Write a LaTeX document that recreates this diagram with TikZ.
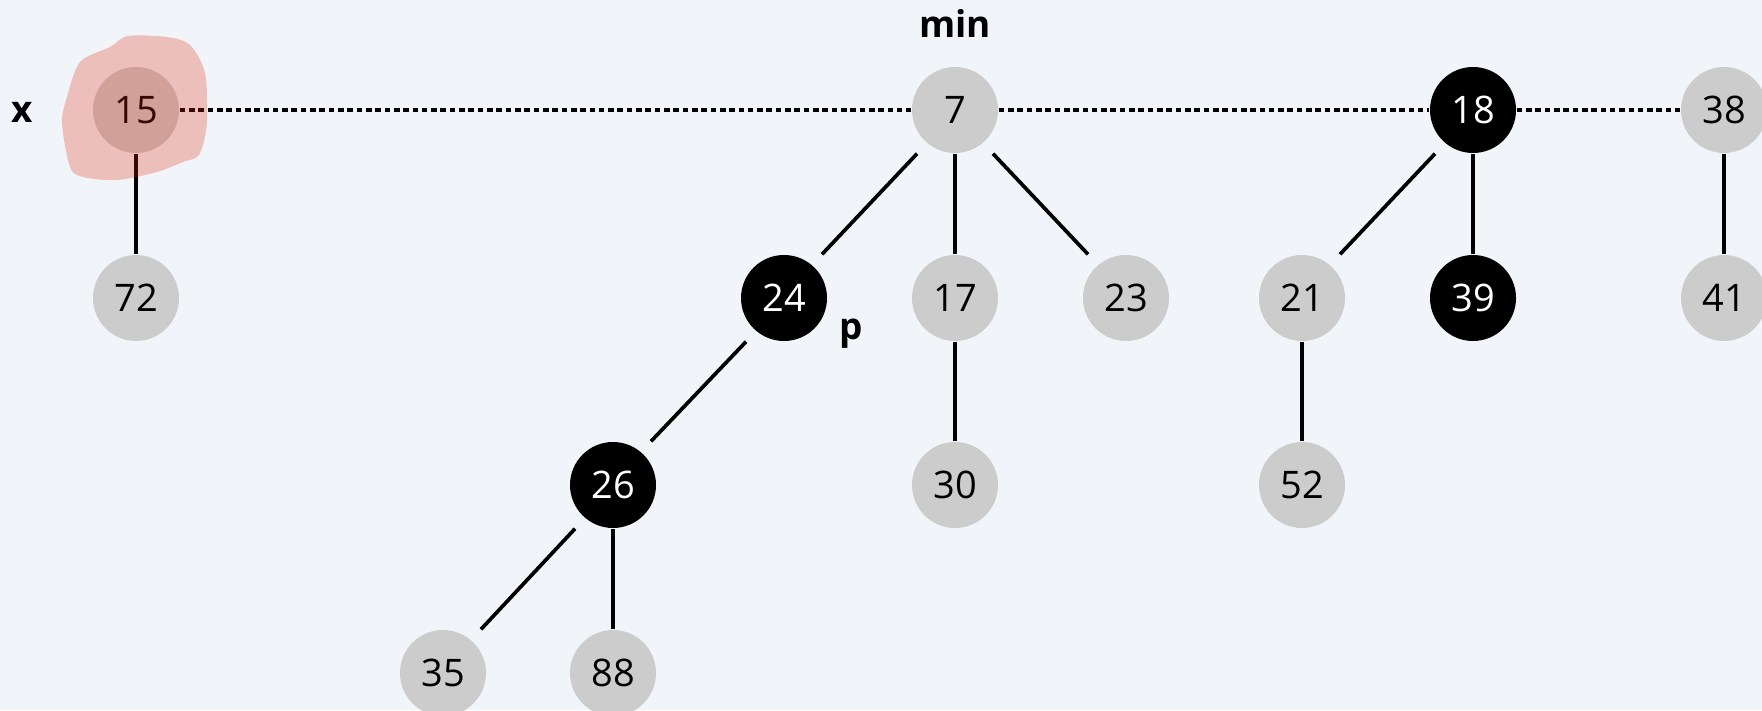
\documentclass[tikz,border=0pt]{standalone}
\usepackage{fontspec}
\setmainfont{Open Sans}
\usetikzlibrary{calc}
\definecolor{bgcol}{RGB}{241,245,249}
\definecolor{nodegray}{RGB}{204,204,204}
\definecolor{markred}{RGB}{224,32,0}
\tikzset{
  key/.style={circle, fill=nodegray, minimum size=0.86cm, inner sep=0pt,
    font=\fontsize{10.8}{13}\selectfont},
  marked/.style={key, fill=black, text=white},
  tag/.style={font=\fontsize{10.5}{13}\selectfont\bfseries},
  link/.style={line width=1.05pt},
  rootlist/.style={line width=0.9pt, dash pattern=on 1.6pt off 1.05pt}
}
\begin{document}
\begin{tikzpicture}
    \fill[bgcol] (0,0) rectangle (17.62,7.10);
    \useasboundingbox (0,0) rectangle (17.62,7.10);
    % roots
    \node[key] (n15) at (1.36,6.00) {15};
    \node[key] (n7) at (9.55,6.00) {7};
    \node[marked] (n18) at (14.73,6.00) {18};
    \node[key] (n38) at (17.24,6.00) {38};
    % children
    \node[key] (n72) at (1.36,4.12) {72};
    \node[marked] (n24) at (7.84,4.12) {24};
    \node[key] (n17) at (9.55,4.12) {17};
    \node[key] (n23) at (11.26,4.12) {23};
    \node[key] (n21) at (13.02,4.12) {21};
    \node[marked] (n39) at (14.73,4.12) {39};
    \node[key] (n41) at (17.24,4.12) {41};
    \node[marked] (n26) at (6.13,2.25) {26};
    \node[key] (n30) at (9.55,2.25) {30};
    \node[key] (n52) at (13.02,2.25) {52};
    \node[key] (n35) at (4.43,0.37) {35};
    \node[key] (n88) at (6.13,0.37) {88};
    % labels
    \node[tag] (lx) at (0.22,5.98) {x};
    \node[tag] (lmin) at (9.55,6.87) {min};
    \node[tag] (lp) at (8.51,3.76) {p};
    % root list
    \draw[rootlist] (n15.east) -- (n7.west);
    \draw[rootlist] (n7.east) -- (n18.west);
    \draw[rootlist] (n18.east) -- (n38.west);
    % tree links
    \draw[link] (n15.south) -- (n72.north);
    \draw[link] ([xshift=-0.38cm]n7.south) -- ([xshift=0.38cm]n24.north);
    \draw[link] (n7.south) -- (n17.north);
    \draw[link] ([xshift=0.38cm]n7.south) -- ([xshift=-0.38cm]n23.north);
    \draw[link] ([xshift=-0.38cm]n24.south) -- ([xshift=0.38cm]n26.north);
    \draw[link] ([xshift=-0.38cm]n26.south) -- ([xshift=0.38cm]n35.north);
    \draw[link] (n26.south) -- (n88.north);
    \draw[link] (n17.south) -- (n30.north);
    \draw[link] ([xshift=-0.38cm]n18.south) -- ([xshift=0.38cm]n21.north);
    \draw[link] (n18.south) -- (n39.north);
    \draw[link] (n21.south) -- (n52.north);
    \draw[link] (n38.south) -- (n41.north);
    % highlight on x
    \fill[markred, opacity=0.25] plot[smooth cycle, tension=0.5] coordinates {
      (0.80,6.48) (1.10,6.63) (1.28,6.74) (1.67,6.73) (1.90,6.65)
      (2.05,6.37) (2.07,5.90) (2.03,5.65) (1.97,5.53) (1.83,5.48)
      (1.57,5.38) (1.17,5.30) (0.83,5.33) (0.70,5.43) (0.62,5.87) (0.67,6.13)};
\end{tikzpicture}
\end{document}
